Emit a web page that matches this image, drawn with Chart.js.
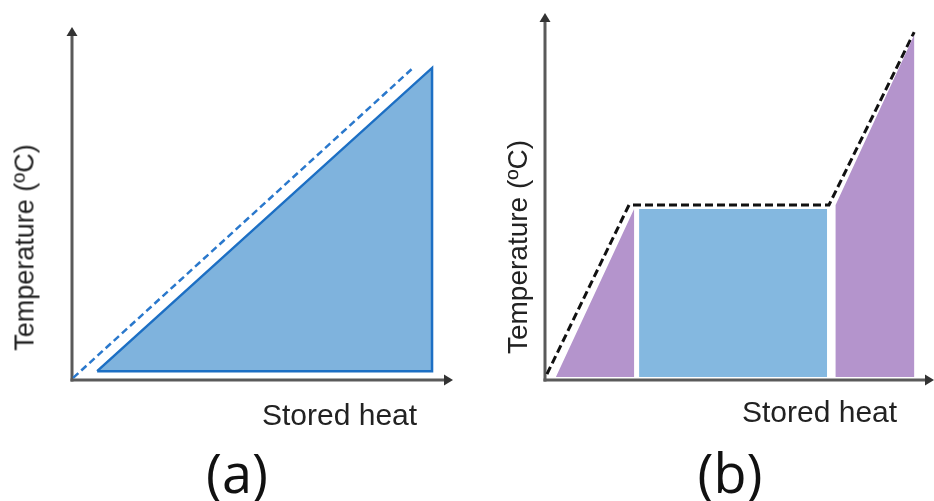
<!DOCTYPE html>
<html>
<head>
<meta charset="utf-8">
<script src="https://cdn.jsdelivr.net/npm/chart.js@4.4.0/dist/chart.umd.min.js"></script>
<style>
html,body{margin:0;padding:0;background:#fff;width:934px;height:501px;overflow:hidden;position:relative;}
canvas{position:absolute;top:0;}
#ca{left:0;} #cb{left:467px;}
.lbl{position:absolute;font-family:"Liberation Sans",Arial,sans-serif;color:#222;white-space:nowrap;}
.ylab{width:300px;text-align:center;transform:rotate(-90deg);transform-origin:50% 50%;}
.cap{position:absolute;font-family:"Open Sans",sans-serif;color:#111;font-size:54px;line-height:54px;width:200px;text-align:center;}
</style>
</head>
<body>
<canvas id="ca" width="467" height="501"></canvas>
<canvas id="cb" width="467" height="501"></canvas>

<div class="lbl ylab" style="font-size:27px;line-height:27px;left:-125px;top:234px;">Temperature (ºC)</div>
<div class="lbl" style="font-size:30px;line-height:30px;left:262px;top:400px;">Stored heat</div>
<div class="cap" style="left:137px;top:445px;">(a)</div>

<div class="lbl ylab" style="font-size:28px;line-height:28px;left:368px;top:233px;">Temperature (ºC)</div>
<div class="lbl" style="font-size:30px;line-height:30px;left:742px;top:397px;">Stored heat</div>
<div class="cap" style="left:630px;top:445px;">(b)</div>

<script>
// ---- data (arbitrary units: stored heat on x, temperature on y, both 0..100) ----
const axisMin = 0;
const axisMax = 100;

// Panel (a): sensible heat storage
const aFillHeat = [6.6, 94.5, 94.5, 6.6];
const aFillTemp = [2.5, 88.4, 2.5, 2.5];
const aDashHeat = [0.3, 89.5];
const aDashTemp = [0.6, 88.4];

// Panel (b): latent heat storage
const bDashHeat = [0.5, 21.6, 73.0, 94.9];
const bDashTemp = [1.6, 47.7, 47.7, 94.8];
const bSolidHeat = [2.8, 22.9, 22.9, 2.8];
const bSolidTemp = [0.8, 46.6, 0.8, 0.8];
const bLatentHeat = [24.2, 72.5, 72.5, 24.2, 24.2];
const bLatentTemp = [46.6, 46.6, 0.8, 0.8, 46.6];
const bLiquidHeat = [74.7, 94.9, 94.9, 74.7, 74.7];
const bLiquidTemp = [47.7, 94.0, 0.8, 0.8, 47.7];

const zip = (xs, ys) => xs.map((v, i) => ({x: v, y: ys[i]}));

const axesArrows = {
  id: 'axesArrows',
  beforeDatasetsDraw(chart, args, opts) {
    const {ctx, scales: {x, y}} = chart;
    const x0 = x.getPixelForValue(axisMin), y0 = y.getPixelForValue(axisMin);
    const xe = x.getPixelForValue(axisMax), ye = y.getPixelForValue(axisMax);
    const w = opts.width;
    ctx.save();
    ctx.strokeStyle = opts.color;
    ctx.lineWidth = w;
    ctx.beginPath(); ctx.moveTo(x0, y0 + w / 2); ctx.lineTo(x0, ye + 6); ctx.stroke();
    ctx.beginPath(); ctx.moveTo(x0 - w / 2, y0); ctx.lineTo(xe - 6, y0); ctx.stroke();
    ctx.fillStyle = opts.head;
    ctx.beginPath(); ctx.moveTo(x0, ye); ctx.lineTo(x0 - 5.5, ye + 9); ctx.lineTo(x0 + 5.5, ye + 9); ctx.closePath(); ctx.fill();
    ctx.beginPath(); ctx.moveTo(xe, y0); ctx.lineTo(xe - 9, y0 - 5.5); ctx.lineTo(xe - 9, y0 + 5.5); ctx.closePath(); ctx.fill();
    ctx.restore();
  }
};

function baseOptions(padding) {
  return {
    responsive: false,
    animation: false,
    devicePixelRatio: 1,
    layout: {padding},
    plugins: {legend: {display: false}, tooltip: {enabled: false}, axesArrows: {color: '#5a5a5a', head: '#333', width: 3}},
    scales: {
      x: {type: 'linear', min: axisMin, max: axisMax, display: false},
      y: {type: 'linear', min: axisMin, max: axisMax, display: false}
    },
    elements: {point: {radius: 0}}
  };
}

new Chart(document.getElementById('ca'), {
  type: 'scatter',
  data: {
    datasets: [
      {data: zip(aFillHeat, aFillTemp), showLine: true, fill: 'shape', backgroundColor: '#7fb3dd', borderColor: '#1c6fc4', borderWidth: 2.5, borderJoinStyle: 'miter', clip: false},
      {data: zip(aDashHeat, aDashTemp), showLine: true, fill: false, borderColor: '#2a78cc', borderWidth: 2.5, borderDash: [7, 4], clip: false}
    ]
  },
  options: baseOptions({left: 72, right: 14, top: 27, bottom: 121}),
  plugins: [axesArrows]
});

new Chart(document.getElementById('cb'), {
  type: 'scatter',
  data: {
    datasets: [
      {data: zip(bSolidHeat, bSolidTemp), showLine: true, fill: 'shape', backgroundColor: '#b494cc', borderWidth: 0, clip: false},
      {data: zip(bLatentHeat, bLatentTemp), showLine: true, fill: 'shape', backgroundColor: '#84b8e0', borderWidth: 0, clip: false},
      {data: zip(bLiquidHeat, bLiquidTemp), showLine: true, fill: 'shape', backgroundColor: '#b494cc', borderWidth: 0, clip: false},
      {data: zip(bDashHeat, bDashTemp), showLine: true, fill: false, borderColor: '#111', borderWidth: 3, borderDash: [8, 4], clip: false}
    ]
  },
  options: baseOptions({left: 78, right: 0, top: 13, bottom: 121}),
  plugins: [axesArrows]
});
</script>
</body>
</html>
